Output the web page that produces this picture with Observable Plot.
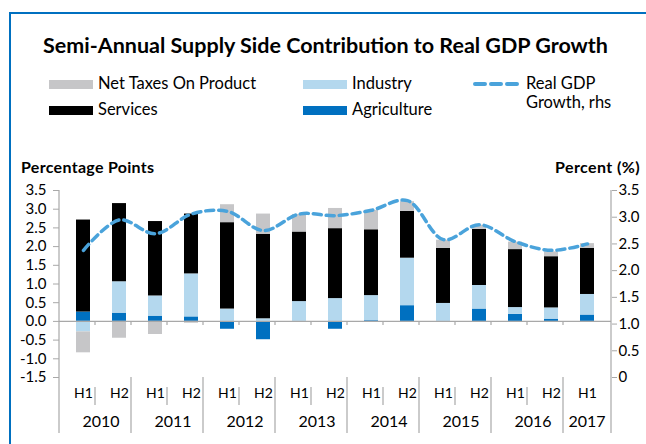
<!DOCTYPE html>
<html><head><meta charset="utf-8">
<script src="https://cdn.jsdelivr.net/npm/d3@7"></script>
<script src="https://cdn.jsdelivr.net/npm/@observablehq/plot@0.6"></script>
<style>
body{margin:0;font-family:Lato, "Noto Sans", sans-serif;color:#000;}
#wrap{position:relative;width:646px;height:444px;overflow:hidden;background:#fff;}
#border{position:absolute;left:9px;top:12px;width:700px;height:500px;border-left:2.5px solid #0070c0;border-top:2.5px solid #0070c0;z-index:5;pointer-events:none;}
#header{position:relative;height:150px;}
.t{position:absolute;white-space:nowrap;line-height:1;}
.sw{position:absolute;width:44px;height:9px;}
#chart svg{display:block;background:transparent;}
</style></head>
<body>
<div id="wrap">
<div id="border"></div>
<div id="header"></div>
<div id="chart"></div>
</div>
<script>
// ---- data ----
const years = ["2010","2010","2011","2011","2012","2012","2013","2013","2014","2014","2015","2015","2016","2016","2017"];
const halves = ["H1","H2","H1","H2","H1","H2","H1","H2","H1","H2","H1","H2","H1","H2","H1"];
const agriculture = [0.25, 0.22, 0.14, 0.12, -0.21, -0.49, 0.00, -0.21, 0.02, 0.42, -0.02, 0.33, 0.19, 0.06, 0.17];
const industry    = [-0.28, 0.84, 0.54, 1.15, 0.33, 0.07, 0.53, 0.61, 0.67, 1.27, 0.48, 0.63, 0.18, 0.30, 0.55];
const services    = [2.46, 2.09, 1.99, 1.60, 2.31, 2.26, 1.86, 1.87, 1.76, 1.25, 1.47, 1.50, 1.55, 1.37, 1.23];
const netTaxes    = [-0.56, -0.45, -0.35, -0.05, 0.48, 0.54, 0.47, 0.54, 0.52, 0.26, 0.22, 0.11, 0.20, 0.13, 0.13];
const realGdp     = [2.38, 2.95, 2.69, 3.06, 3.11, 2.75, 3.06, 3.03, 3.13, 3.31, 2.58, 2.86, 2.54, 2.38, 2.50];
const seriesNames = ["Agriculture","Industry","Services","Net Taxes On Product"];
const seriesColors = ["#0070c0","#b4d8ee","#000000","#c6c6c8"];
const leftTicks = [-1.5,-1.0,-0.5,0,0.5,1.0,1.5,2.0,2.5,3.0,3.5];
const rightTicks = [0,0.5,1.0,1.5,2.0,2.5,3.0,3.5];
const rightLabels = ["0","0.5","1.0","1.5","2.0","2.5","3.0","3.5"];
const title = "Semi-Annual Supply Side Contribution to Real GDP Growth";
const leftTitle = "Percentage Points";
const rightTitle = "Percent (%)";
const gdpLabel = ["Real GDP","Growth, rhs"];
const gdpColor = "#4aa3db";

// ---- header ----
const header = document.getElementById("header");
function addText(txt, css){const d=document.createElement("div");d.className="t";d.textContent=txt;Object.assign(d.style,css);header.appendChild(d);return d;}
function addSw(color, css){const d=document.createElement("div");d.className="sw";d.style.background=color;Object.assign(d.style,css);header.appendChild(d);}
addText(title,{left:"43px",top:"35px",fontSize:"21.5px",fontWeight:"700"});
addSw(seriesColors[3],{left:"49px",top:"80px"});
addText(seriesNames[3],{left:"98px",top:"75px",fontSize:"16.5px"});
addSw(seriesColors[2],{left:"49px",top:"106px"});
addText(seriesNames[2],{left:"98px",top:"101px",fontSize:"16.5px"});
addSw(seriesColors[1],{left:"303px",top:"80px"});
addText(seriesNames[1],{left:"352px",top:"75px",fontSize:"16.5px"});
addSw(seriesColors[0],{left:"303px",top:"106px"});
addText(seriesNames[0],{left:"352px",top:"101px",fontSize:"16.5px"});
const dash=document.createElementNS("http://www.w3.org/2000/svg","svg");
dash.setAttribute("width","50");dash.setAttribute("height","10");
Object.assign(dash.style,{position:"absolute",left:"472px",top:"79px"});
dash.innerHTML=`<line x1="3" y1="5" x2="47" y2="5" stroke="${gdpColor}" stroke-width="4" stroke-dasharray="10,6" stroke-linecap="round"/>`;
header.appendChild(dash);
addText(gdpLabel[0],{left:"526px",top:"75px",fontSize:"16.5px"});
addText(gdpLabel[1],{left:"526px",top:"94px",fontSize:"16.5px"});
addText(leftTitle,{left:"21px",top:"159px",fontSize:"16px",fontWeight:"700",letterSpacing:"0.3px"});
addText(rightTitle,{right:"6px",top:"159px",fontSize:"16px",fontWeight:"700",letterSpacing:"0.4px"});

// ---- chart ----
const keys = years.map((y,i)=>y+" "+halves[i]);
const seriesArrays = [agriculture, industry, services, netTaxes];
const long = [];
seriesNames.forEach((s,si)=>keys.forEach((k,i)=>long.push({key:k, series:s, value:seriesArrays[si][i]})));
const toLeft = r => -1.5 + r*5/3.5;
const gdpData = keys.map((k,i)=>({key:k, v:toLeft(realGdp[i])}));
const rightMap = new Map(rightTicks.map((r,i)=>[toLeft(r).toFixed(4), rightLabels[i]]));
const halfOf = new Map(keys.map((k,i)=>[k, halves[i]]));
const axisGray = "#a8a8a8";

const H = 294, MT = 40, MB = 67, ML = 59, MR = 35;
const plot = Plot.plot({
  width: 646, height: H,
  marginTop: MT, marginBottom: MB, marginLeft: ML, marginRight: MR,
  style: {fontFamily: "Lato, sans-serif", background: "transparent", color: "#000"},
  x: {type: "band", domain: keys, paddingInner: 0.6, paddingOuter: 0.3},
  y: {domain: [-1.5, 3.5]},
  color: {domain: seriesNames, range: seriesColors},
  marks: [
    Plot.barY(long, Plot.stackY({x: "key", y: "value", fill: "series", order: seriesNames})),
    Plot.ruleY([0], {stroke: axisGray, strokeWidth: 1.2}),
    Plot.line(gdpData, {x: "key", y: "v", stroke: gdpColor, strokeWidth: 3.5, strokeDasharray: "8,5", curve: "catmull-rom"}),
    Plot.axisY({ticks: leftTicks, tickFormat: v => v.toFixed(1), tickSize: 6, tickPadding: 7, fontSize: 15, stroke: axisGray, fill: "#000", label: null}),
    Plot.axisY({anchor: "right", ticks: rightTicks.map(toLeft), tickFormat: v => rightMap.get(v.toFixed(4)), tickSize: 5, tickPadding: 2, fontSize: 15, stroke: axisGray, fill: "#000", label: null}),
    Plot.axisX({ticks: keys, tickFormat: k => halfOf.get(k), tickSize: 0, tickPadding: 11, fontSize: 14, fill: "#000", label: null})
  ]
});
document.getElementById("chart").appendChild(plot);

// decorations using the plot's own scales
const xs = plot.scale("x"), ys = plot.scale("y");
const svg = d3.select(plot);
const step = xs.step, r0 = xs.range[0];
const center = k => xs.apply(k) + xs.bandwidth/2;
const y0 = ys.apply(0), yBot = ys.apply(-1.5);
const g = svg.append("g").attr("stroke", axisGray).attr("stroke-width", 1.2);
const bottomEnd = yBot + 56;
g.append("line").attr("x1", r0).attr("x2", r0).attr("y1", MT).attr("y2", bottomEnd);
g.append("line").attr("x1", xs.range[1]).attr("x2", xs.range[1]).attr("y1", MT).attr("y2", bottomEnd);
for (let i = 1; i < keys.length; i++) {
  const bx = r0 + i*step;
  g.append("line").attr("x1", bx).attr("x2", bx).attr("y1", y0).attr("y2", y0 + 4);
  if (years[i] === years[i-1]) {
    g.append("line").attr("x1", bx).attr("x2", bx).attr("y1", yBot + 10).attr("y2", yBot + 28);
  } else {
    g.append("line").attr("x1", bx).attr("x2", bx).attr("y1", yBot).attr("y2", bottomEnd);
  }
}
const uniqYears = [...new Set(years)];
const yt = svg.append("g").attr("font-size", 16).attr("text-anchor", "middle").attr("fill", "#000").attr("font-family", "Lato, sans-serif");
uniqYears.forEach(y => {
  const ks = keys.filter((k,i)=>years[i]===y);
  const cx = d3.mean(ks, center);
  yt.append("text").attr("x", cx).attr("y", yBot + 44).attr("dy", "0.35em").text(y);
});
</script>
</body></html>
